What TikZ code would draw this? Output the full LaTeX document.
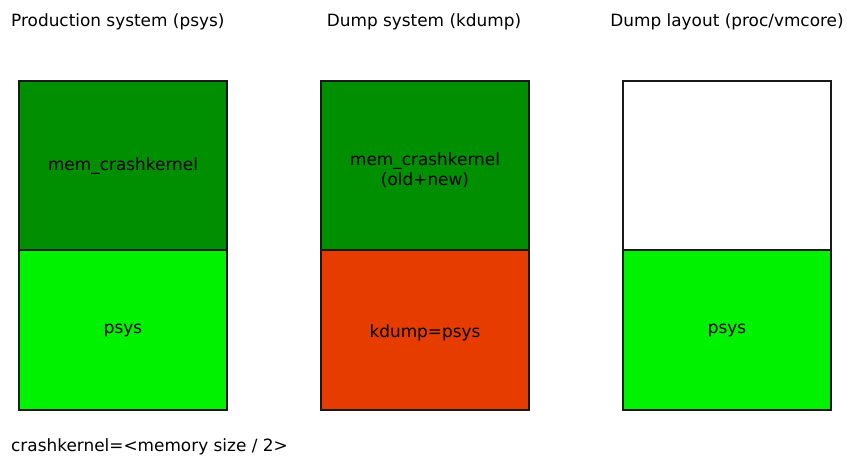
\documentclass[tikz,border=0pt]{standalone}
\usepackage{fontspec}
\setmainfont{DejaVu Sans}
\definecolor{dgreen}{RGB}{0,143,0}
\definecolor{lgreen}{RGB}{0,242,0}
\definecolor{kred}{RGB}{230,60,0}
\begin{document}
\begin{tikzpicture}[x=1pt,y=-1pt,
  cell/.style={draw=black!90,line width=1.5pt},
  lbl/.style={font=\fontsize{16.9}{20}\selectfont,inner sep=0pt,align=center}]
\useasboundingbox (0,0) rectangle (847,457);
\fill[white] (0,0) rectangle (847,457);
% left
\filldraw[cell,fill=dgreen] (19,81) rectangle (227,250);
\filldraw[cell,fill=lgreen] (19,250) rectangle (227,410);
% middle
\filldraw[cell,fill=dgreen] (321,81) rectangle (529,250);
\filldraw[cell,fill=kred] (321,250) rectangle (529,410);
% right
\filldraw[cell,fill=white] (623,81) rectangle (831,250);
\filldraw[cell,fill=lgreen] (623,250) rectangle (831,410);
\node[lbl,anchor=west] (t1) at (11,22) {Production system (psys)};
\node[lbl] (t2) at (424,22) {Dump system (kdump)};
\node[lbl] (t3) at (727,22) {Dump layout (proc/vmcore)};
\node[lbl] (m1) at (123,166) {mem\_crashkernel};
\node[lbl] (m2) at (425,170) {mem\_crashkernel\\(old+new)};
\node[lbl] (p1) at (123,331) {psys};
\node[lbl] (k2) at (425,333) {kdump=psys};
\node[lbl] (p3) at (727,331) {psys};
\node[lbl,anchor=west] (b) at (11,447) {crashkernel=<memory size / 2>};
\end{tikzpicture}
\end{document}
